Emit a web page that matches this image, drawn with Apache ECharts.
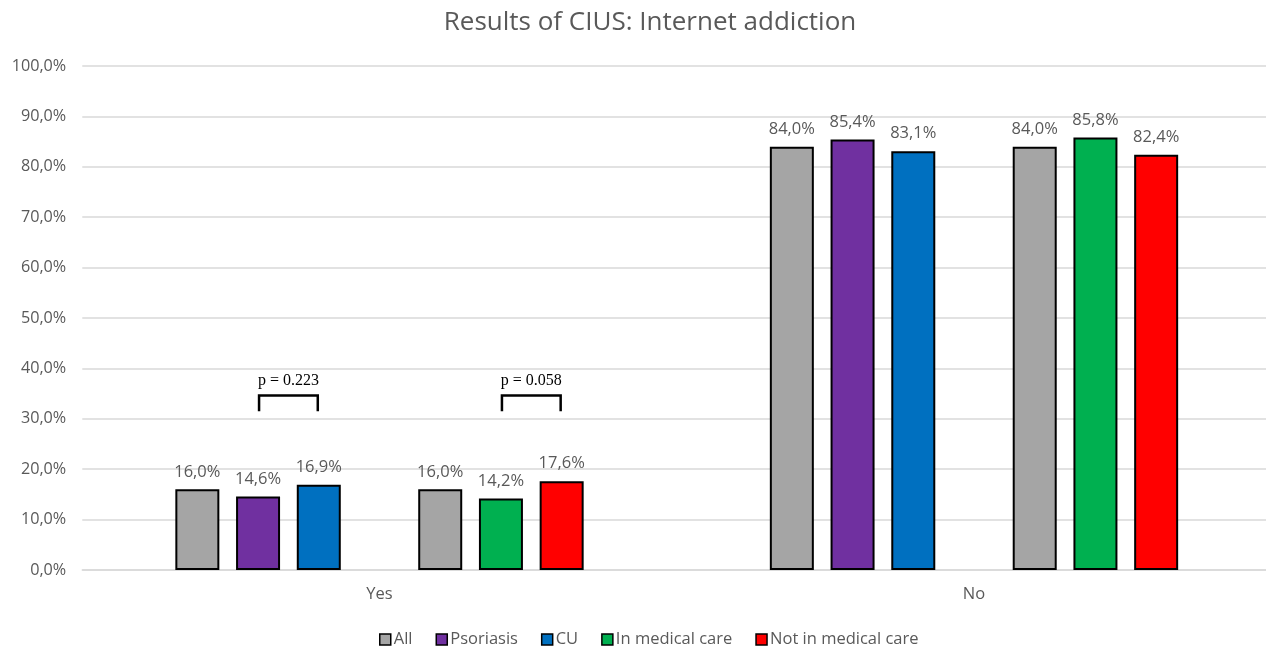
<!DOCTYPE html>
<html>
<head>
<meta charset="utf-8">
<script src="https://cdn.jsdelivr.net/npm/echarts@6/dist/echarts.min.js"></script>
<style>html,body{margin:0;padding:0;background:#fff}#c{width:1266px;height:646px}</style>
</head>
<body>
<div id="c"></div>
<script>
const categories = ['Yes', 'No'];
const allValues = [16.0, 84.0];
const psoriasisValues = [14.6, 85.4];
const cuValues = [16.9, 83.1];
const allValues2 = [16.0, 84.0];
const medicalValues = [14.2, 85.8];
const notMedicalValues = [17.6, 82.4];
const pValues = ['p = 0.223', 'p = 0.058'];

const TXT = '#595959';
const FONT = 'Open Sans';
const fmt = v => v.toFixed(1).replace('.', ',') + '%';

function barSeries(name, data, color) {
  return {
    name: name, type: 'bar', data: data,
    barWidth: 44, barGap: '38%',
    itemStyle: { color: color, borderColor: '#000', borderWidth: 2 },
    label: { show: true, position: 'top', distance: 9, color: TXT, fontFamily: FONT, fontSize: 16.5,
      formatter: p => fmt(p.value) }
  };
}

const chart = echarts.init(document.getElementById('c'));
chart.setOption({
  animation: false,
  title: { text: 'Results of CIUS: Internet addiction', left: 645, textAlign: 'center', top: 5,
    textStyle: { color: TXT, fontFamily: FONT, fontSize: 26, fontWeight: 'normal' } },
  legend: {
    data: ['All', 'Psoriasis', 'CU', 'In medical care', 'Not in medical care'],
    top: 626, left: 374, itemWidth: 11, itemHeight: 11, itemGap: 23,
    icon: 'rect',
    itemStyle: { borderColor: '#000', borderWidth: 1.5 },
    textStyle: { color: TXT, fontFamily: FONT, fontSize: 16.5, padding: [0, 0, 0, -2] }
  },
  grid: { left: 82.25, right: -5.25, top: 66, bottom: 76, containLabel: false, outerBoundsMode: 'none' },
  xAxis: {
    type: 'category', data: categories,
    axisLine: { lineStyle: { color: '#d9d9d9', width: 1.5 } },
    axisTick: { show: false },
    axisLabel: { color: TXT, fontFamily: FONT, fontSize: 16.5, margin: 16 }
  },
  yAxis: {
    type: 'value', min: 0, max: 100, interval: 10,
    axisLine: { show: false }, axisTick: { show: false },
    splitLine: { lineStyle: { color: '#d9d9d9', width: 1.5 } },
    axisLabel: { color: TXT, fontFamily: FONT, fontSize: 16.2, margin: 16, formatter: v => fmt(v) }
  },
  series: [
    barSeries('All', allValues, '#A5A5A5'),
    barSeries('Psoriasis', psoriasisValues, '#7030A0'),
    barSeries('CU', cuValues, '#0070C0'),
    { name: 'spacer', type: 'bar', data: ['-', '-'], barWidth: 44, barGap: '38%', silent: true },
    barSeries('All', allValues2, '#A5A5A5'),
    barSeries('In medical care', medicalValues, '#00B050'),
    barSeries('Not in medical care', notMedicalValues, '#FF0000')
  ]
});

// p-value brackets between bar pairs of the "Yes" category
const model = chart.getModel();
function barCenter(seriesIndex, idx) {
  const l = model.getSeriesByIndex(seriesIndex).getData().getItemLayout(idx);
  return l.x + l.width / 2;
}
const yTop = chart.convertToPixel({ yAxisIndex: 0 }, 34.6);
const yBot = chart.convertToPixel({ yAxisIndex: 0 }, 31.5);
const yText = chart.convertToPixel({ yAxisIndex: 0 }, 37.6);
const pairs = [[1, 2], [5, 6]];
const graphics = [];
pairs.forEach((pr, i) => {
  const x1 = barCenter(pr[0], 0) + 1, x2 = barCenter(pr[1], 0) - 1;
  graphics.push({ type: 'polyline', shape: { points: [[x1, yBot], [x1, yTop], [x2, yTop], [x2, yBot]] },
    style: { stroke: '#000', lineWidth: 2.5, fill: null } });
  graphics.push({ type: 'text', x: (x1 + x2) / 2, y: yText,
    style: { text: pValues[i], fill: '#000', font: '16px "Liberation Serif", serif', align: 'center', verticalAlign: 'middle' } });
});
chart.setOption({ graphic: graphics });
</script>
</body>
</html>
